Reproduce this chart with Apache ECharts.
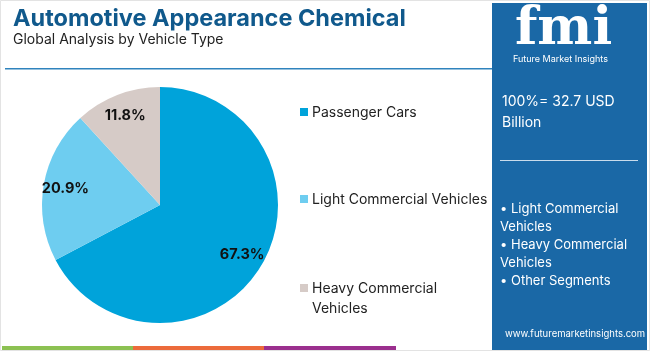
<!DOCTYPE html>
<html>
<head>
<meta charset="utf-8">
<script src="https://cdn.jsdelivr.net/npm/echarts@6/dist/echarts.min.js"></script>
<style>
  html, body { margin: 0; padding: 0; background: #fff; }
  #chart { width: 650px; height: 351px; }
</style>
</head>
<body>
<div id="chart"></div>
<script>
// data
const categories = ['Passenger Cars', 'Light Commercial Vehicles', 'Heavy Commercial Vehicles']
const shares = [67.3, 20.9, 11.8]
const sliceColors = ['#00a3da', '#6ecdf0', '#d6cbc7']
const legendLabels = ['Passenger Cars', 'Light Commercial Vehicles', 'Heavy Commercial\nVehicles']
const sideBullets = ['• Light Commercial', 'Vehicles', '• Heavy Commercial', 'Vehicles', '• Other Segments']

const FONT = 'Inter, "Open Sans", sans-serif'
const myChart = echarts.init(document.getElementById('chart'), null, { renderer: 'canvas' })

let graphics = [
  // outer border
  { type: 'rect', shape: { x: 0.5, y: 0.5, width: 649, height: 350 }, style: { fill: 'none', stroke: '#e3e3e3', lineWidth: 1 } },
  { type: 'text', left: 13, top: 7, style: { text: 'Automotive Appearance Chemical', fill: '#10598c', font: 'bold 23.5px ' + FONT } },
  { type: 'text', left: 13, top: 33, style: { text: 'Global Analysis by Vehicle Type', fill: '#222', font: '14px ' + FONT } },
  { type: 'rect', shape: { x: 5, y: 68, width: 487, height: 1.5 }, style: { fill: '#2f83bd' } },
  // bottom strip
  { type: 'rect', shape: { x: 2, y: 346, width: 131, height: 4 }, style: { fill: '#8cc152' } },
  { type: 'rect', shape: { x: 133, y: 346, width: 131, height: 4 }, style: { fill: '#ec6b3b' } },
  { type: 'rect', shape: { x: 264, y: 346, width: 132, height: 4 }, style: { fill: '#9b2f8e' } },
  // side panel
  { type: 'rect', shape: { x: 492, y: 3, width: 155, height: 347 }, style: { fill: '#1a68a6' } },
  { type: 'text', left: 515, top: 4, style: { text: 'fmi', fill: '#ffffff', font: 'bold 52px "DejaVu Serif", serif' } },
  { type: 'text', left: 513, top: 55, style: { text: 'Future Market Insights', fill: '#ffffff', font: '9px ' + FONT } },
  { type: 'text', left: 502, top: 91, style: { text: '100%= 32.7 USD\nBillion', fill: '#ffffff', font: '14px ' + FONT, lineHeight: 21 } },
  { type: 'rect', shape: { x: 500, y: 160, width: 138, height: 1 }, style: { fill: '#c9dcec' } },
  { type: 'text', left: 500, top: 200, style: { text: sideBullets.join('\n'), fill: '#ffffff', font: '13px ' + FONT, lineHeight: 18 } },
  { type: 'text', left: 505, top: 329, style: { text: 'www.futuremarketinsights.com', fill: '#ffffff', font: '9.5px ' + FONT } }
]

// legend built from the category list
const legendY = [112, 199, 288]
categories.forEach((c, i) => {
  graphics.push({ type: 'rect', shape: { x: 300, y: legendY[i] - 4, width: 8, height: 8 }, style: { fill: sliceColors[i] } })
  graphics.push({ type: 'text', left: 312, top: legendY[i] - 9, style: { text: legendLabels[i], fill: '#222', font: '14px ' + FONT, lineHeight: 20 } })
})

const pieData = categories.map((c, i) => ({ name: c, value: shares[i] }))

let option = {
  animation: false,
  color: sliceColors,
  graphic: graphics,
  series: [{
    type: 'pie',
    center: [160, 205],
    radius: [0, 118],
    startAngle: 90,
    clockwise: true,
    label: { show: false },
    labelLine: { show: false },
    emphasis: { disabled: true },
    data: pieData
  }, {
    // transparent ring, only to put the labels further out
    type: 'pie',
    center: [160, 205],
    radius: [68, 118],
    startAngle: 90,
    clockwise: true,
    silent: true,
    itemStyle: { color: 'rgba(0,0,0,0)' },
    label: {
      show: true,
      position: 'inside',
      formatter: p => p.value.toFixed(1) + '%',
      color: '#111',
      fontWeight: 'bold',
      fontSize: 14.5,
      fontFamily: FONT
    },
    labelLine: { show: false },
    emphasis: { disabled: true },
    data: pieData
  }]
}

myChart.setOption(option)
</script>
</body>
</html>
